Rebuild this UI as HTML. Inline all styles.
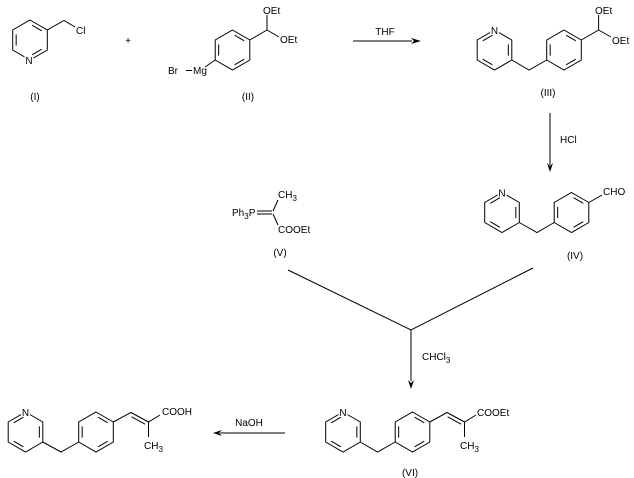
<!DOCTYPE html>
<html><head><meta charset="utf-8"><style>
html,body{margin:0;padding:0;background:#fff;}
svg{display:block;}
</style></head><body>
<svg width="634" height="478" viewBox="0 0 634 478" xmlns="http://www.w3.org/2000/svg" font-family="'Liberation Sans', Arial, sans-serif" font-size="10">
<rect width="634" height="478" fill="#fff"/>
<g stroke="#000" stroke-width="1" fill="none">
  <!-- (I) pyridine, N bottom -->
  <path transform="translate(30,40)" d="M0,-20 L17.3,-10 L17.3,10 L0,20 L-17.3,10 L-17.3,-10 Z M2.08,-14.8 L11.76,-9.2 M11.76,9.2 L2.08,14.8 M-13.84,5.6 L-13.84,-5.6"/>
  <path d="M47.3,30 L64,20.5 L75,27"/>
  <!-- (II) benzene -->
  <path transform="translate(232.5,50)" d="M0,-20 L17.3,-10 L17.3,10 L0,20 L-17.3,10 L-17.3,-10 Z M2.08,-14.8 L11.76,-9.2 M11.76,9.2 L2.08,14.8 M-13.84,5.6 L-13.84,-5.6"/>
  <path d="M249.8,40 L267,30 L267,15 M267,30 L279,37"/>
  <path d="M205,67 L215.2,60"/>
  <path d="M186,70.5 L192,70.5"/>
  <!-- THF arrow -->
  <path d="M353,41 L412,41"/>
  <!-- (III) -->
  <path transform="translate(494.5,50)" d="M0,-20 L17.3,-10 L17.3,10 L0,20 L-17.3,10 L-17.3,-10 Z M13.84,-5.6 L13.84,5.6 M-2.08,14.8 L-11.76,9.2 M-11.76,-9.2 L-2.08,-14.8"/>
  <path transform="translate(564,50)" d="M0,-20 L17.3,-10 L17.3,10 L0,20 L-17.3,10 L-17.3,-10 Z M2.08,-14.8 L11.76,-9.2 M11.76,9.2 L2.08,14.8 M-13.84,5.6 L-13.84,-5.6"/>
  <path d="M511.8,60 L529,70 L546.7,60"/>
  <path d="M581.3,40 L598.6,30 L598.6,15 M598.6,30 L611,37"/>
  <!-- HCl arrow -->
  <path d="M550,113 L550,165"/>
  <!-- (IV) -->
  <path transform="translate(502,212.5)" d="M0,-20 L17.3,-10 L17.3,10 L0,20 L-17.3,10 L-17.3,-10 Z M13.84,-5.6 L13.84,5.6 M-2.08,14.8 L-11.76,9.2 M-11.76,-9.2 L-2.08,-14.8"/>
  <path transform="translate(571.5,212.5)" d="M0,-20 L17.3,-10 L17.3,10 L0,20 L-17.3,10 L-17.3,-10 Z M2.08,-14.8 L11.76,-9.2 M11.76,9.2 L2.08,14.8 M-13.84,5.6 L-13.84,-5.6"/>
  <path d="M519.3,222.5 L537,232.5 L554.2,222.5"/>
  <path d="M588.8,202.5 L602,195"/>
  <!-- (V) -->
  <path d="M257,211 L272,211 M257,214 L272,214"/>
  <path d="M273,211 L278,200 M273,214 L278,225"/>
  <!-- Y connector -->
  <path d="M288,270 L411,330 L533,268 M411,330 L411,381"/>
  <!-- (VI) -->
  <path transform="translate(343,432)" d="M0,-20 L17.3,-10 L17.3,10 L0,20 L-17.3,10 L-17.3,-10 Z M13.84,-5.6 L13.84,5.6 M-2.08,14.8 L-11.76,9.2 M-11.76,-9.2 L-2.08,-14.8"/>
  <path transform="translate(412.5,432)" d="M0,-20 L17.3,-10 L17.3,10 L0,20 L-17.3,10 L-17.3,-10 Z M2.08,-14.8 L11.76,-9.2 M11.76,9.2 L2.08,14.8 M-13.84,5.6 L-13.84,-5.6"/>
  <path d="M360.3,442 L377.5,452 L395.2,442"/>
  <path d="M429.8,422 L447,412.5 L464.5,422 L476,415 M464.5,422 L464.5,437"/>
  <path d="M447.6,416.8 L461.1,424.2"/>
  <!-- final product -->
  <path transform="translate(25.5,432)" d="M0,-20 L17.3,-10 L17.3,10 L0,20 L-17.3,10 L-17.3,-10 Z M13.84,-5.6 L13.84,5.6 M-2.08,14.8 L-11.76,9.2 M-11.76,-9.2 L-2.08,-14.8"/>
  <path transform="translate(96,432)" d="M0,-20 L17.3,-10 L17.3,10 L0,20 L-17.3,10 L-17.3,-10 Z M2.08,-14.8 L11.76,-9.2 M11.76,9.2 L2.08,14.8 M-13.84,5.6 L-13.84,-5.6"/>
  <path d="M42.8,442 L61,452 L78.7,442"/>
  <path d="M113.3,422 L131,412.5 L148.5,422 L160,415 M148.5,422 L148.5,437"/>
  <path d="M131.6,416.8 L145.1,424.2"/>
  <!-- NaOH arrow -->
  <path d="M285,433 L220,433"/>
</g>
<!-- arrowheads -->
<g fill="#000" stroke="none">
  <polygon points="421,41 411,38 414,41 411,44"/>
  <polygon points="550,172 547,163 550,166 553,163"/>
  <polygon points="411,389 408,380 411,383 414,380"/>
  <polygon points="213,433 222,430 219,433 222,436"/>
  <rect x="531" y="268" width="1" height="1"/>
</g>
<!-- white backgrounds for N -->
<g fill="#fff">
  <rect x="24.5" y="55" width="9" height="10"/>
  <rect x="490" y="24" width="9" height="10"/>
  <rect x="497.5" y="187" width="9" height="10"/>
  <rect x="338.5" y="407" width="9" height="10"/>
  <rect x="21" y="407" width="9" height="10"/>
</g>
<g fill="#000">
  <text x="29" y="64" text-anchor="middle">N</text>
  <text x="494.5" y="34" text-anchor="middle">N</text>
  <text x="502" y="196.5" text-anchor="middle">N</text>
  <text x="343" y="416" text-anchor="middle">N</text>
  <text x="25.5" y="416" text-anchor="middle">N</text>

  <text x="76" y="34">Cl</text>
  <text x="128" y="44" text-anchor="middle">+</text>
  <text x="35" y="100" text-anchor="middle">(I)</text>

  <text x="263" y="14">OEt</text>
  <text x="280" y="43">OEt</text>
  <text x="168" y="74">Br</text>
  <text x="193" y="74">Mg</text>
  <text x="248" y="100" text-anchor="middle">(II)</text>

  <text x="385" y="35" text-anchor="middle">THF</text>

  <text x="595" y="14">OEt</text>
  <text x="612" y="44">OEt</text>
  <text x="548" y="96" text-anchor="middle">(III)</text>

  <text x="560" y="143">HCl</text>

  <text x="603" y="195">CHO</text>
  <text x="575" y="259" text-anchor="middle">(IV)</text>

  <text x="232" y="216">Ph<tspan font-size="8" dy="3">3</tspan><tspan dy="-3">P</tspan></text>
  <text x="278" y="198">CH<tspan font-size="8" dy="3">3</tspan></text>
  <text x="278" y="233">COOEt</text>
  <text x="280" y="256" text-anchor="middle">(V)</text>

  <text x="422" y="360">CHCl<tspan font-size="8" dy="3">3</tspan></text>

  <text x="477" y="416">COOEt</text>
  <text x="460" y="449">CH<tspan font-size="8" dy="3">3</tspan></text>
  <text x="410" y="476" text-anchor="middle">(VI)</text>

  <text x="162" y="415">COOH</text>
  <text x="144" y="449">CH<tspan font-size="8" dy="3">3</tspan></text>

  <text x="249" y="426" text-anchor="middle">NaOH</text>
</g>
</svg>
</body></html>
